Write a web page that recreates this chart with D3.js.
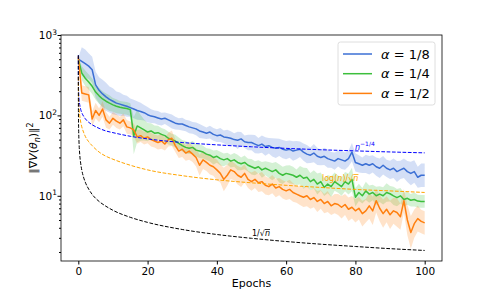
<!DOCTYPE html>
<html>
<head>
<meta charset="utf-8">
<script src="https://cdn.jsdelivr.net/npm/d3@7"></script>
<style>
  body { margin: 0; background: #fff; }
  text { font-family: "DejaVu Sans", sans-serif; }
</style>
</head>
<body>
<script>
// gradient norm vs epochs, three step sizes, log y axis

var epochs = d3.range(0, 101);

// mean curves, one value per epoch
var alpha18 = [500,470,440,410,370,240,205,185,170,158,
	150,142,138,134,130,125,120,115,112,108,
	102,98,96,93,90,92,88,84,80,78,
	78,75,72,70,68,64,62,60,62,58,
	56,57,54,53,52,50,49,51,47,46,
	46,44,42,44,41,42,40,39,40,38,
	37,38,36,37,38,35,33,32,34,31,
	30,31,29,28,27,29,28,27,29,35,
	26,25,24,25,24,25,23,22,24,22,
	21,22,20,21,22,20,19,20,17,18,
	18];
var alpha14 = [500,335,290,260,230,195,175,160,150,142,
	135,130,126,124,122,118,56,74,70,66,
	62,64,60,61,58,56,52,50,48,45,
	42,40,39,40,37,36,35,33,32,30,
	31,29,28,29,27,28,26,25,26,24,
	23,22,23,21,22,21,20,21,19,18,
	19,18.5,18,17,18,16.5,17,15,16,14,
	15,12.7,14,13,15,14,13,15,14,16,
	9.6,11,10,11.5,10.5,11,10,10.5,10,11,
	10.6,10,9.5,10,9,9.3,8.8,9,8.6,8.5,
	8.5];
var alpha12 = [540,190,185,180,90,115,100,120,88,80,
	92,85,80,88,72,70,66,54,56,52,
	54,50,48,46,48,44,50,52,42,36,
	38,34,36,33,30,24,28,26,24,23,
	21,19,16,18,21,20,18,17,19,16,
	15,16,14.5,15,13.5,13,14,12.5,13,12,
	11.5,12,11,10.5,10,9.6,10,9,9.5,8.5,
	9,8,8.5,7.5,8,7.8,7.2,7.8,6.8,7.2,
	6.5,7,6,6.5,7.5,6.5,8.7,7,6,6.8,
	5.8,6.5,6.2,5.5,8.7,5,3.5,4.5,5.2,4.8,
	4.6];

// band spread (upper/mean ratio) per epoch
var spread18 = [1.05,1.5,1.5,1.45,1.45,1.45,1.45,1.5,1.5,1.45,
	1.45,1.4,1.4,1.35,1.35,1.3,1.3,1.3,1.28,1.25,
	1.25,1.22,1.2,1.22,1.2,1.18,1.2,1.22,1.2,1.18,
	1.2,1.18,1.2,1.18,1.2,1.22,1.2,1.18,1.2,1.2,
	1.2,1.22,1.2,1.25,1.22,1.2,1.28,1.22,1.2,1.25,
	1.25,1.3,1.25,1.28,1.3,1.25,1.3,1.32,1.28,1.3,
	1.3,1.28,1.32,1.3,1.25,1.28,1.3,1.25,1.3,1.28,
	1.25,1.28,1.3,1.25,1.28,1.25,1.3,1.28,1.25,1.3,
	1.3,1.28,1.25,1.3,1.3,1.28,1.3,1.32,1.3,1.28,
	1.3,1.32,1.35,1.3,1.32,1.35,1.4,1.38,1.35,1.4,
	1.4];
var spread14 = [1.05,1.22,1.25,1.25,1.25,1.25,1.25,1.25,1.25,1.25,
	1.22,1.22,1.2,1.2,1.2,1.2,1.7,1.6,1.45,1.35,
	1.3,1.25,1.25,1.22,1.2,1.2,1.2,1.18,1.2,1.18,
	1.18,1.2,1.18,1.2,1.2,1.22,1.2,1.18,1.2,1.22,
	1.2,1.22,1.2,1.18,1.2,1.22,1.25,1.2,1.22,1.2,
	1.25,1.22,1.2,1.25,1.22,1.25,1.28,1.25,1.3,1.28,
	1.25,1.3,1.28,1.25,1.3,1.35,1.3,1.28,1.3,1.35,
	1.3,1.28,1.3,1.35,1.3,1.28,1.3,1.32,1.35,1.4,
	1.3,1.28,1.25,1.3,1.28,1.25,1.3,1.25,1.28,1.3,
	1.25,1.3,1.28,1.25,1.22,1.2,1.2,1.22,1.2,1.2,
	1.2];
var spread12 = [1.05,1.25,1.25,1.25,1.25,1.25,1.22,1.25,1.25,1.2,
	1.2,1.22,1.2,1.2,1.22,1.2,1.2,1.22,1.2,1.2,
	1.2,1.22,1.2,1.22,1.25,1.2,1.22,1.25,1.2,1.22,
	1.25,1.25,1.28,1.25,1.3,1.35,1.3,1.28,1.3,1.3,
	1.35,1.3,1.4,1.35,1.3,1.28,1.3,1.32,1.3,1.28,
	1.3,1.28,1.3,1.32,1.3,1.28,1.3,1.3,1.28,1.3,
	1.3,1.32,1.3,1.28,1.3,1.32,1.35,1.3,1.32,1.35,
	1.3,1.32,1.35,1.3,1.32,1.35,1.38,1.35,1.4,1.38,
	1.4,1.38,1.45,1.4,1.45,1.5,1.4,1.45,1.5,1.45,
	1.5,1.45,1.5,1.45,1.4,1.55,1.6,1.5,1.45,1.4,
	1.4];

// reference rate curves (dashed), sampled where read
var guideEpochs = [0,0.02,0.05,0.1,0.2,0.4,0.7,1,1.5,2,3,4,6,8,10,15,20,30,40,50,60,70,80,90,100];
var rateQuarter = [560,283,227,192,161,136,118,108,98,91,82,76.5,69,64,61,55,51,46,43,40.7,38.9,37.4,36.2,35.1,34.2];
var rateLogSqrt = [300,230,190,150,125,100,82,72,62,55,47,42,35,31,28.5,24,21,17.8,15.8,14.5,13.5,12.7,12,11.5,11];
var rateSqrt = [560,143,92,66,46.6,33,25,20.9,17.1,14.8,12.1,10.4,8.5,7.4,6.6,5.4,4.67,3.81,3.3,2.96,2.7,2.5,2.34,2.2,2.09];

var xTicks = [0,20,40,60,80,100];
var yTicks = [10,100,1000];
var legendLabels = ["1/8","1/4","1/2"];

var svg = d3.select("body").append("svg")
	.attr("width", 491)
	.attr("height", 294);

var pLeft = 61, pRight = 442, pTop = 35, pBottom = 261;

var x = d3.scaleLinear().domain([-5, 105]).range([pLeft, pRight]);
var y = d3.scaleLog().domain([1.545, 1000]).range([pBottom, pTop]);

var series = [
	{name: legendLabels[0], mean: alpha18, spread: spread18, color: "#3b6fd4"},
	{name: legendLabels[1], mean: alpha14, spread: spread14, color: "#3cbf3c"},
	{name: legendLabels[2], mean: alpha12, spread: spread12, color: "#ff7f0e"}
];

svg.append("clipPath").attr("id", "clip")
	.append("rect").attr("x", pLeft).attr("y", pTop)
	.attr("width", pRight - pLeft).attr("height", pBottom - pTop);
var plot = svg.append("g").attr("clip-path", "url(#clip)");

// bands + mean lines
series.forEach(function(s) {
	var area = d3.area()
		.x(function(d, i) { return x(epochs[i]); })
		.y0(function(d, i) { return y(d / s.spread[i]); })
		.y1(function(d, i) { return y(d * s.spread[i]); });
	plot.append("path")
		.datum(s.mean)
		.attr("d", area)
		.attr("fill", s.color)
		.attr("fill-opacity", 0.22);
});
series.forEach(function(s) {
	var line = d3.line()
		.x(function(d, i) { return x(epochs[i]); })
		.y(function(d) { return y(d); });
	plot.append("path")
		.datum(s.mean)
		.attr("d", line)
		.attr("fill", "none")
		.attr("stroke", s.color)
		.attr("stroke-width", 1.5)
		.attr("stroke-linejoin", "round");
});

// dashed rate curves
var guides = [
	{vals: rateQuarter, color: "blue"},
	{vals: rateLogSqrt, color: "orange"},
	{vals: rateSqrt, color: "black"}
];
guides.forEach(function(g) {
	var line = d3.line()
		.x(function(d, i) { return x(guideEpochs[i]); })
		.y(function(d) { return y(d); })
		.curve(d3.curveMonotoneX);
	plot.append("path")
		.datum(g.vals)
		.attr("d", line)
		.attr("fill", "none")
		.attr("stroke", g.color)
		.attr("stroke-width", 1)
		.attr("stroke-dasharray", "3.7,1.6");
});

// curve annotations
var ann = svg.append("g").attr("font-size", 8);
var t1 = ann.append("text").attr("x", 355).attr("y", 150).attr("fill", "blue");
t1.append("tspan").attr("font-style", "italic").text("n");
t1.append("tspan").attr("dy", -4).attr("font-size", 6).text("\u22121/4");

var t2 = ann.append("text").attr("x", 322).attr("y", 181).attr("fill", "orange");
t2.append("tspan").text("log(");
t2.append("tspan").attr("font-style", "italic").text("n");
t2.append("tspan").text(")/\u221a");
t2.append("tspan").attr("font-style", "italic").style("text-decoration", "overline").text("n");

var t3 = ann.append("text").attr("x", 252).attr("y", 236).attr("fill", "black");
t3.append("tspan").text("1/\u221a");
t3.append("tspan").attr("font-style", "italic").style("text-decoration", "overline").text("n");

// x axis
var xAxis = svg.append("g")
	.attr("transform", "translate(0," + pBottom + ")")
	.call(d3.axisBottom(x).tickValues(xTicks).tickSize(3.5).tickPadding(3).tickSizeOuter(0));
xAxis.select(".domain").remove();
xAxis.selectAll("text").attr("font-size", 10.5).attr("fill", "#000").style("font-family", "DejaVu Sans");

// y axis majors + minors
var minors = [];
[1, 10, 100].forEach(function(b) {
	for (var k = 2; k <= 9; k++) {
		if (b * k >= 1.545) minors.push(b * k);
	}
});
var yAxis = svg.append("g")
	.attr("transform", "translate(" + pLeft + ",0)")
	.call(d3.axisLeft(y).tickValues(yTicks).tickSize(3.5).tickFormat(""));
yAxis.select(".domain").remove();
var yMinor = svg.append("g")
	.attr("transform", "translate(" + pLeft + ",0)")
	.call(d3.axisLeft(y).tickValues(minors).tickSize(2).tickFormat(""));
yMinor.select(".domain").remove();

var yLab = svg.append("g");
yTicks.forEach(function(v) {
	var t = yLab.append("text")
		.attr("x", 57)
		.attr("y", y(v) + 4)
		.attr("text-anchor", "end")
		.attr("font-size", 10.5);
	t.append("tspan").text("10");
	t.append("tspan").attr("dy", -4.5).attr("font-size", 7.5).text(Math.round(Math.log10(v)));
});

// frame
svg.append("rect")
	.attr("x", pLeft).attr("y", pTop)
	.attr("width", pRight - pLeft).attr("height", pBottom - pTop)
	.attr("fill", "none").attr("stroke", "#000").attr("stroke-width", 0.8);

// axis titles
svg.append("text")
	.attr("x", (pLeft + pRight) / 2)
	.attr("y", 287)
	.attr("text-anchor", "middle")
	.attr("font-size", 11)
	.text("Epochs");

var yt = svg.append("text")
	.attr("transform", "translate(37,148) rotate(-90)")
	.attr("text-anchor", "middle")
	.attr("font-size", 11);
yt.append("tspan").text("\u2016\u2207");
yt.append("tspan").attr("font-style", "italic").text("V");
yt.append("tspan").text("(");
yt.append("tspan").attr("font-style", "italic").text("\u03b8");
yt.append("tspan").attr("font-style", "italic").attr("font-size", 8).attr("dy", 2.5).text("n");
yt.append("tspan").attr("dy", -2.5).text(")\u2016");
yt.append("tspan").attr("font-size", 8).attr("dy", -4.5).text("2");

// legend
var legend = svg.append("g");
legend.append("rect")
	.attr("x", 338).attr("y", 42)
	.attr("width", 97).attr("height", 63)
	.attr("rx", 2.5)
	.attr("fill", "#fff").attr("fill-opacity", 0.8)
	.attr("stroke", "#d6d6d6").attr("stroke-width", 0.8);
var item = legend.selectAll("g.item")
	.data(series)
	.enter().append("g")
	.attr("class", "item")
	.attr("transform", function(d, i) { return "translate(0," + (54 + i * 19.7) + ")"; });
item.append("line")
	.attr("x1", 343).attr("x2", 372)
	.attr("stroke", function(d) { return d.color; })
	.attr("stroke-width", 1.5);
var lt = item.append("text")
	.attr("x", 381)
	.attr("y", 4.5)
	.attr("font-size", 13);
lt.append("tspan").attr("font-style", "italic").text("\u03b1");
lt.append("tspan").text(function(d) { return " = " + d.name; });
</script>
</body>
</html>
